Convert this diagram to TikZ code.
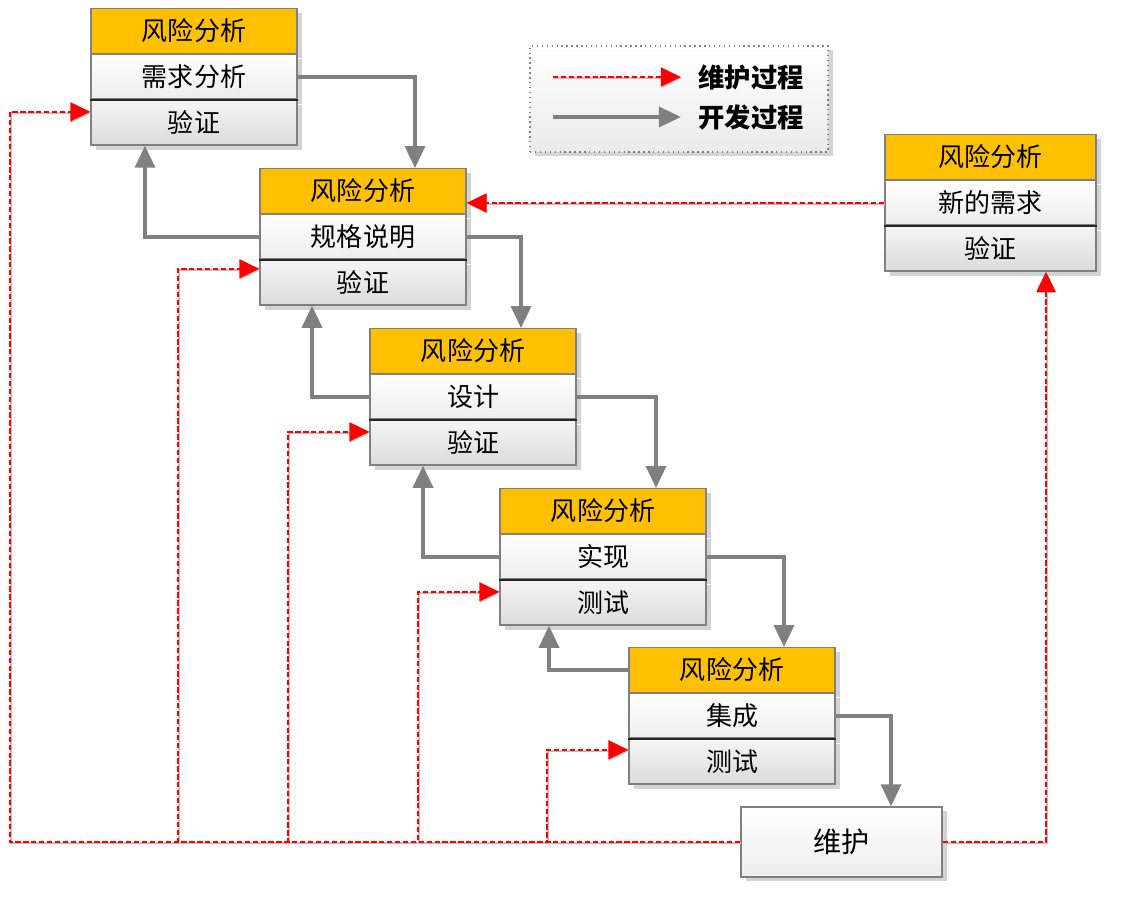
\documentclass[tikz,border=0pt]{standalone}
\usepackage{fontspec}
\setmainfont{Noto Sans CJK SC}
\usetikzlibrary{positioning,shadows,arrows.meta}

\definecolor{hdrorange}{RGB}{255,192,0}
\definecolor{boxgray}{RGB}{128,128,128}

\tikzset{
	part/.style={draw=boxgray, line width=0.8pt, minimum width=4.12cm, minimum height=0.89cm,
		inner sep=0pt, font=\fontsize{14.8}{17}\selectfont,
		drop shadow={shadow xshift=0.09cm, shadow yshift=-0.09cm, opacity=0.35}},
	hdr/.style={part, fill=hdrorange},
	mid/.style={part, top color=white, bottom color=black!7},
	ver/.style={part, top color=black!4, bottom color=black!14},
	sep/.style={line width=1.2pt, black!85},
	dev/.style={draw=boxgray, line width=2pt, -{Triangle[length=0.44cm, width=0.4cm]}},
	mnt/.style={draw=red, line width=0.9pt, dash pattern=on 3pt off 1.5pt,
		preaction={draw=black!25, solid, line width=1.1pt, transform canvas={shift={(0.4pt,-0.7pt)}}},
		-{Triangle[length=0.4cm, width=0.38cm, fill=red]}},
}

\begin{document}
\begin{tikzpicture}
	\useasboundingbox (0,0) rectangle (22.5,18.34);

	% legend
	\draw (13.58,16.36) node[draw=boxgray, dotted, line width=0.8pt, minimum width=5.96cm, minimum height=2.12cm,
		top color=white, bottom color=black!8, drop shadow={shadow xshift=0.09cm, shadow yshift=-0.09cm, opacity=0.35}] (lgd) {};
	\draw (15.02,16.8) node[font=\fontsize{15}{17}\selectfont\bfseries, inner xsep=0.34cm] (lg1) {维护过程};
	\draw (15.02,16.0) node[font=\fontsize{15}{17}\selectfont\bfseries, inner xsep=0.34cm] (lg2) {开发过程};
	\coordinate (ls1) at (11.06,16.8);
	\coordinate (ls2) at (11.06,16.0);
	\draw[mnt] (ls1) -- (lg1.west);
	\draw[dev] (ls2) -- (lg2.west);

	% stages
	\draw (3.88,17.72) node[hdr] (h1) {风险分析};
	\node[mid, below=0pt of h1] (m1) {需求分析};
	\node[ver, below=0pt of m1] (v1) {验证};

	\draw (7.26,14.52) node[hdr] (h2) {风险分析};
	\node[mid, below=0pt of h2] (m2) {规格说明};
	\node[ver, below=0pt of m2] (v2) {验证};

	\draw (9.46,11.32) node[hdr] (h3) {风险分析};
	\node[mid, below=0pt of h3] (m3) {设计};
	\node[ver, below=0pt of m3] (v3) {验证};

	\draw (12.06,8.12) node[hdr] (h4) {风险分析};
	\node[mid, below=0pt of h4] (m4) {实现};
	\node[ver, below=0pt of m4] (v4) {测试};

	\draw (14.64,4.94) node[hdr] (h5) {风险分析};
	\node[mid, below=0pt of h5] (m5) {集成};
	\node[ver, below=0pt of m5] (v5) {测试};

	\draw (19.81,15.2) node[hdr, minimum width=4.22cm] (hR) {风险分析};
	\node[mid, minimum width=4.22cm, below=0pt of hR] (mR) {新的需求};
	\node[ver, minimum width=4.22cm, below=0pt of mR] (vR) {验证};

	\draw (16.83,1.5) node[mid, minimum width=4.02cm, minimum height=1.4cm, font=\fontsize{16}{18}\selectfont] (mt) {维护};

	\foreach \b in {1,2,3,4,5,R}
		\draw[sep] (m\b.south west) -- (m\b.south east);

	% development process
	\draw[dev] (m1.east) -| ([xshift=1.04cm]h2.north);
	\draw[dev] (m2.east) -| ([xshift=0.96cm]h3.north);
	\draw[dev] (m3.east) -| ([xshift=1.06cm]h4.north);
	\draw[dev] (m4.east) -| ([xshift=1.04cm]h5.north);
	\draw[dev] (m5.east) -| ([xshift=0.99cm]mt.north);

	\draw[dev] (m2.west) -| ([xshift=-0.98cm]v1.south);
	\draw[dev] (m3.west) -| ([xshift=-1.02cm]v2.south);
	\draw[dev] (m4.west) -| ([xshift=-1cm]v3.south);
	\draw[dev] (h5.west) -| ([xshift=-1.08cm]v4.south);

	% maintenance process
	\coordinate (t1) at ([yshift=0.22cm]v1.west);
	\coordinate (t2) at ([yshift=0.28cm]v2.west);
	\coordinate (t3) at ([yshift=0.22cm]v3.west);
	\coordinate (t4) at ([yshift=0.22cm]v4.west);
	\coordinate (t5) at ([yshift=0.24cm]v5.west);
	\coordinate (k1) at (0.2,0);
	\coordinate (k2) at (3.56,0);
	\coordinate (k3) at (5.76,0);
	\coordinate (k4) at (8.36,0);
	\coordinate (k5) at (10.94,0);
	\foreach \i in {1,...,5}
		\draw[mnt] (mt.west) -| (k\i |- t\i) -- (t\i);

	\draw[mnt] (mt.east) -| ([xshift=1.11cm]vR.south);
	\draw[mnt] (mR.west) -- (mR.west -| h2.east);
\end{tikzpicture}
\end{document}
